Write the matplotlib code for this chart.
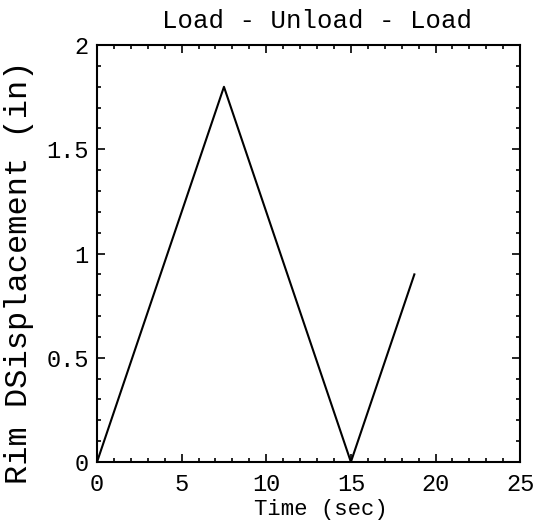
import matplotlib
matplotlib.use("Agg")
import matplotlib.pyplot as plt
from matplotlib.ticker import MultipleLocator

time_sec = [0, 7.5, 15, 18.75]
rim_disp = [0, 1.8, 0, 0.9]
x_ticks = [0, 5, 10, 15, 20, 25]
y_ticks = [0, 0.5, 1, 1.5, 2]
y_tick_labels = ["0", "0.5", "1", "1.5", "2"]

plt.rcParams['font.family'] = ['Liberation Mono', 'DejaVu Sans Mono']
fig = plt.figure(figsize=(5.39, 5.29), dpi=100)
ax = fig.add_axes([0.18, 0.1267, 0.785, 0.788])
ax.plot(time_sec, rim_disp, color='black', lw=1.5)
ax.set_xlim(0, 25)
ax.set_ylim(0, 2)
ax.set_xticks(x_ticks)
ax.set_yticks(y_ticks)
ax.set_yticklabels(y_tick_labels)
ax.xaxis.set_minor_locator(MultipleLocator(1))
ax.yaxis.set_minor_locator(MultipleLocator(0.1))
ax.tick_params(which='both', direction='in', top=True, right=True, labelsize=17, width=1.2)
ax.tick_params(which='major', length=6)
ax.tick_params(which='minor', length=3)
ax.tick_params(axis='x', which='major', pad=8)
ax.tick_params(axis='y', which='major', pad=6)
for s in ax.spines.values():
    s.set_linewidth(1.5)
ax.set_xlabel("Time (sec)", fontsize=16)
ax.xaxis.set_label_coords(0.53, -0.09, transform=ax.transAxes)
ax.xaxis.label.set_va('top')
ax.set_ylabel("Rim DSisplacement (in)", fontsize=23)
ax.yaxis.set_label_coords(-0.15, 0.455)
ax.set_title("Load - Unload - Load", fontsize=18.5, x=0.52, pad=12)
fig.savefig("out.png", dpi=100)
